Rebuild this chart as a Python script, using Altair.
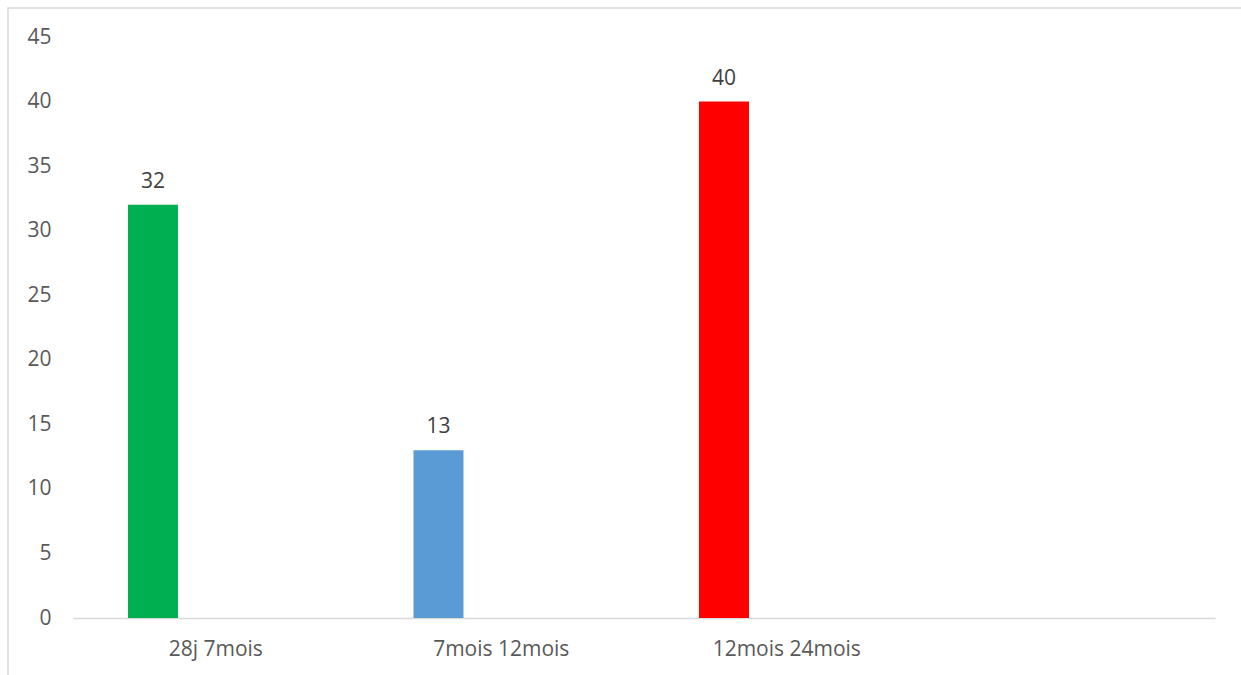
import altair as alt
import pandas as pd

categories = ["28j 7mois", "7mois 12mois", "12mois 24mois"]
values = [32, 13, 40]
colors = ["#00B050", "#5B9BD5", "#FF0000"]
x_domain = categories + [" "]
y_ticks = [0, 5, 10, 15, 20, 25, 30, 35, 40, 45]

df = pd.DataFrame({"cat": categories, "val": values, "serie": ["s"] * 3})

FONT = "Open Sans"
FS = 21

x_enc = alt.X("cat:N", scale=alt.Scale(domain=x_domain, paddingInner=0, paddingOuter=0),
              sort=x_domain,
              axis=alt.Axis(title=None, labelAngle=0, ticks=False, domainColor="#D9D9D9",
                            domainWidth=1.5, labelColor="#595959", labelFontSize=FS,
                            labelFont=FONT, labelPadding=20, grid=False))
xo_enc = alt.XOffset("serie:N", scale=alt.Scale(domain=["s", "vide"], paddingInner=0.6016,
                                                 paddingOuter=0.438))
y_enc = alt.Y("val:Q", scale=alt.Scale(domain=[0, 45], nice=False),
              axis=alt.Axis(title=None, values=y_ticks, domain=False, ticks=False, grid=False,
                            labelColor="#595959", labelFontSize=FS, labelFont=FONT,
                            labelPadding=22))

base = alt.Chart(df)
bars = base.mark_bar().encode(
    x=x_enc, xOffset=xo_enc, y=y_enc,
    color=alt.Color("cat:N", scale=alt.Scale(domain=categories, range=colors), legend=None),
)
labels = base.mark_text(dy=-17, baseline="alphabetic", fontSize=FS, font=FONT,
                        color="#404040").encode(
    x=x_enc, xOffset=xo_enc, y=y_enc, text="val:Q"
)
border = alt.Chart(pd.DataFrame({"a": [0]})).mark_rect(
    filled=False, stroke="#D9D9D9", strokeWidth=1.5
).encode(x=alt.value(-65), x2=alt.value(1300), y=alt.value(-29), y2=alt.value(700))

chart = alt.layer(border, bars, labels).properties(
    width=1142, height=581,
    autosize=alt.AutoSizeParams(type="none"),
    padding={"left": 73, "top": 37, "right": 26, "bottom": 57},
    background="white",
).configure_view(stroke=None)

chart.save("out.html", embed_options={"renderer": "svg", "actions": False})
